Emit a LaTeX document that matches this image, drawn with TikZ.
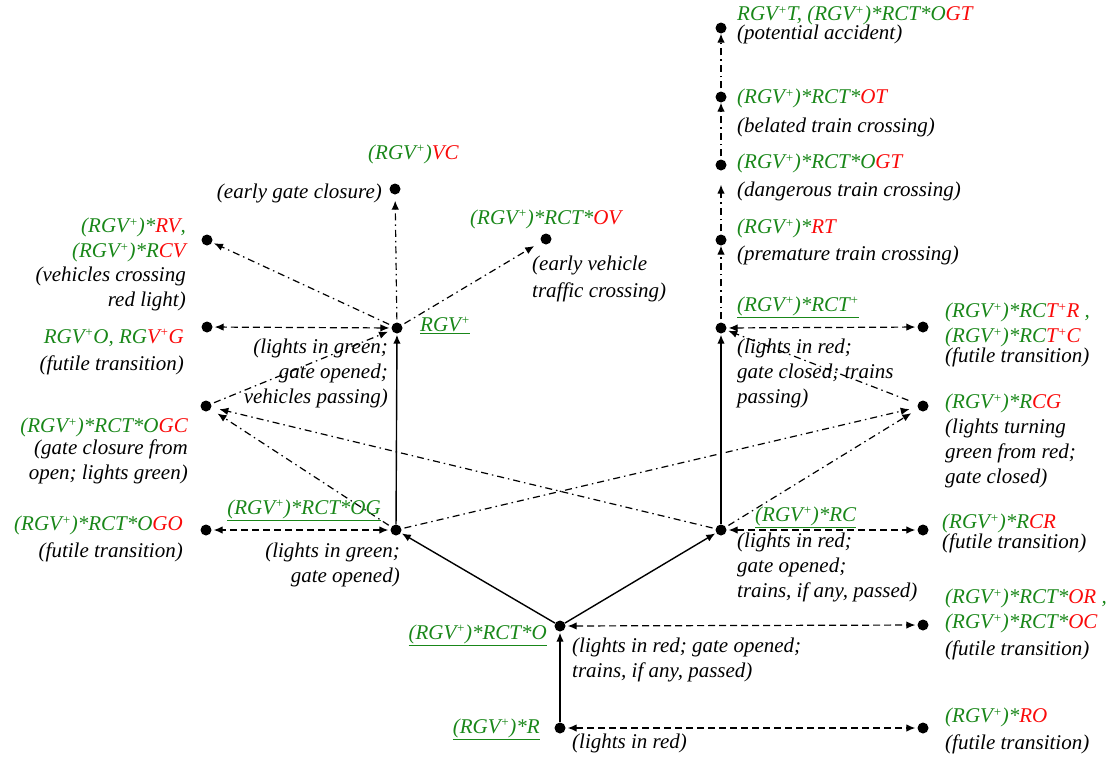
\documentclass[tikz,border=0pt]{standalone}
\usepackage{fontspec}
\setmainfont{Liberation Serif}
\usetikzlibrary{arrows.meta}
\definecolor{grn}{RGB}{25,135,25}
\definecolor{rd}{RGB}{250,10,10}
\newcommand{\gr}[1]{\textcolor{grn}{#1}}
\newcommand{\rd}[1]{\textcolor{rd}{#1}}
\newcommand{\pls}{\raisebox{0.32em}{\fontsize{13}{13}\selectfont+}}
\begin{document}
\begin{tikzpicture}[x=1pt,y=-1pt,
  dot/.style={circle,fill=black,inner sep=0pt,minimum size=11pt},
  lbl/.style={inner sep=0pt,font=\fontsize{21}{25}\selectfont\itshape},
  sarr/.style={line width=1.4pt,-{Latex[length=9pt,width=7.5pt]},shorten >=1pt},
  darr/.style={line width=1.2pt,dash pattern=on 7pt off 4pt,
    {Latex[length=9pt,width=7.5pt]}-{Latex[length=9pt,width=7.5pt]},shorten >=2pt,shorten <=2pt},
  ddarr/.style={line width=1.2pt,dash pattern=on 7pt off 4pt on 1.5pt off 4pt,
    -{Latex[length=9pt,width=7.5pt]},shorten >=2pt,shorten <=3pt}]
\useasboundingbox (0,0) rectangle (1113,758);

% states
\node[dot] (R)     at (560,728) {};
\node[dot] (O)     at (560,626) {};
\node[dot] (OG)    at (396,530) {};
\node[dot] (RC)    at (721,530) {};
\node[dot] (RGVp)  at (397,328) {};
\node[dot] (RCTp)  at (721,328) {};
\node[dot] (VC)    at (395,189) {};
\node[dot] (OV)    at (546,239) {};
\node[dot] (RV)    at (207,240) {};
\node[dot] (RGVpO) at (207,327) {};
\node[dot] (OGC)   at (206,406) {};
\node[dot] (OGO)   at (206,530) {};
\node[dot] (RO)    at (923,728) {};
\node[dot] (OR)    at (923,625) {};
\node[dot] (RCR)   at (923,530) {};
\node[dot] (RCG)   at (923,406) {};
\node[dot] (RCTpR) at (923,327) {};
\node[dot] (RT)    at (721,240) {};
\node[dot] (OGT)   at (721,165) {};
\node[dot] (OT)    at (721,97) {};
\node[dot] (ACC)   at (721,28) {};

% main path
\draw[sarr] (R) -- (O);
\draw[sarr] (O) -- (OG);
\draw[sarr] (O) -- (RC);
\draw[sarr] (OG) -- (RGVp);
\draw[sarr] (RC) -- (RCTp);

% futile transitions
\draw[darr] (R) -- (RO);
\draw[darr] (O) -- (OR);
\draw[darr] (RC) -- (RCR);
\draw[darr] (OG) -- (OGO);
\draw[darr] (RGVp) -- (RGVpO);
\draw[darr] (RCTp) -- (RCTpR);

% faulty transitions
\draw[ddarr,shorten >=6pt] (RGVp) -- (VC);
\draw[ddarr,shorten >=8pt] (RGVp) -- (OV);
\draw[ddarr] (RGVp) -- (RV);
\draw[ddarr,shorten >=4pt] (OGC) -- (RGVp);
\draw[ddarr,shorten >=8pt] (OG) -- (OGC);
\draw[ddarr,shorten >=8pt] (RC) -- (OGC);
\draw[ddarr,shorten >=8pt] (OG) -- (RCG);
\draw[ddarr,shorten >=8pt] (RC) -- (RCG);
\draw[ddarr,shorten <=10pt] (RCG) -- (RCTp);
\draw[ddarr,shorten >=0pt] (RCTp) -- (RT);
\draw[ddarr,shorten >=14pt] (RT) -- (OGT);
\draw[ddarr,shorten >=0pt] (OGT) -- (OT);
\draw[ddarr,shorten >=0pt] (OT) -- (ACC);

% right column labels
\node[lbl,anchor=north west,align=left] (tACC) at (737,6)
  {\gr{RGV\pls T, (RGV\pls)*RCT*O}\rd{GT}\\[-6pt](potential accident)};
\node[lbl,anchor=north west,align=left] (tOT) at (737,89)
  {\gr{(RGV\pls)*RCT*}\rd{OT}\\[4pt](belated train crossing)};
\node[lbl,anchor=north west,align=left] (tOGT) at (737,154)
  {\gr{(RGV\pls)*RCT*O}\rd{GT}\\[3pt](dangerous train crossing)};
\node[lbl,anchor=north west,align=left] (tRT) at (737,219)
  {\gr{(RGV\pls)*}\rd{RT}\\[2pt](premature train crossing)};
\node[lbl,anchor=base west] (tRCTp) at (737,311)
  {\gr{\underline{(RGV\pls)*RCT\pls}}};
\node[lbl,anchor=north west,align=left] (dRCTp) at (737,339)
  {(lights in red;\\gate closed; trains\\passing)};
\node[lbl,anchor=north west,align=left] (tRCTpR) at (945,303)
  {\gr{(RGV\pls)*RC}\rd{T\pls R}\gr{\ ,}\\\gr{(RGV\pls)*RC}\rd{T\pls C}\\[-5pt](futile transition)};
\node[lbl,anchor=north west,align=left] (tRCG) at (945,394)
  {\gr{(RGV\pls)*R}\rd{CG}\\(lights turning\\green from red;\\gate closed)};
\node[lbl,anchor=base west] (tRC) at (755,521)
  {\gr{\underline{(RGV\pls)*RC}}};
\node[lbl,anchor=north west,align=left] (dRC) at (737,533)
  {(lights in red;\\gate opened;\\trains, if any, passed)};
\node[lbl,anchor=north west,align=left] (tRCR) at (942,514)
  {\gr{(RGV\pls)*R}\rd{CR}\\[-5pt](futile transition)};
\node[lbl,anchor=north west,align=left] (tOR) at (945,589)
  {\gr{(RGV\pls)*RCT*}\rd{OR}\gr{\ ,}\\\gr{(RGV\pls)*RCT*}\rd{OC}\\[2pt](futile transition)};
\node[lbl,anchor=north west,align=left] (tRO) at (945,708)
  {\gr{(RGV\pls)*}\rd{RO}\\[2pt](futile transition)};

% centre labels
\node[lbl,anchor=base east] (tO) at (547,639) {\gr{\underline{(RGV\pls)*RCT*O}}};
\node[lbl,anchor=north west,align=left] (dO) at (572,638)
  {(lights in red; gate opened;\\trains, if any, passed)};
\node[lbl,anchor=base east] (tR) at (540,733) {\gr{\underline{(RGV\pls)*R}}};
\node[lbl,anchor=north west] (dR) at (572,734) {(lights in red)};
\node[lbl,anchor=base east] (tOG) at (381,514) {\gr{\underline{(RGV\pls)*RCT*OG}}};
\node[lbl,anchor=north east,align=right] (dOG) at (400,543)
  {(lights in green;\\gate opened)};
\node[lbl,anchor=base west] (tRGVp) at (420,331) {\gr{\underline{RGV\pls}}};
\node[lbl,anchor=north east,align=right] (dRGVp) at (388,339)
  {(lights in green;\\gate opened;\\vehicles passing)};
\node[lbl,anchor=base east] (dVC) at (382,198) {(early gate closure)};
\node[lbl,anchor=base west] (tVC) at (368,159) {\gr{(RGV\pls)}\rd{VC}};
\node[lbl,anchor=base west] (tOV) at (470,224) {\gr{(RGV\pls)*RCT*}\rd{OV}};
\node[lbl,anchor=north west,align=left] (dOV) at (532,256)
  {(early vehicle\\[2pt]traffic crossing)};

% left column labels
\node[lbl,anchor=north east,align=right] (tRV) at (186,218)
  {\gr{(RGV\pls)*}\rd{RV}\gr{,}\\\gr{(RGV\pls)*R}\rd{CV}\\[-1pt](vehicles crossing\\red light)};
\node[lbl,anchor=north east,align=right] (tRGVpO) at (184,329)
  {\gr{RGV\pls O, RG}\rd{V\pls G}\\[2pt](futile transition)};
\node[lbl,anchor=north east,align=right] (tOGC) at (188,418)
  {\gr{(RGV\pls)*RCT*O}\rd{GC}\\[-3pt](gate closure from\\open; lights green)};
\node[lbl,anchor=north east,align=right] (tOGO) at (183,516)
  {\gr{(RGV\pls)*RCT*O}\rd{GO}\\[2pt](futile transition)};
\end{tikzpicture}
\end{document}
